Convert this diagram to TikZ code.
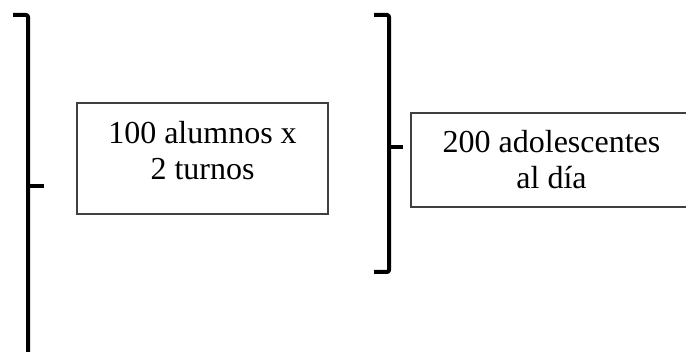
\documentclass[tikz,border=0pt]{standalone}
\usepackage{fontspec}
\setmainfont{Liberation Serif}
\begin{document}
\begin{tikzpicture}[x=1pt,y=-1pt,
  boxframe/.style={draw=black!75, line width=1.2pt, fill=white, inner sep=0pt},
  boxtext/.style={inner sep=0pt, align=center, font=\fontsize{32}{36}\selectfont},
  bracketline/.style={line width=4pt, black, line join=round}]
\clip (0,0) rectangle (686,352);
\fill[white] (0,0) rectangle (686,352);
% left bracket
\coordinate (lt) at (13,15);
\coordinate (lc) at (28,15);
\coordinate (lb) at (28,360);
\coordinate (lm) at (28,186);
\coordinate (lmt) at (44,186);
\draw[bracketline, rounded corners=2pt] (lt) -- (lc) -- (lb);
\draw[bracketline] (lm) -- (lmt);
% right bracket
\coordinate (rt) at (374,15);
\coordinate (rc) at (389,15);
\coordinate (rcb) at (389,272);
\coordinate (rb) at (374,272);
\coordinate (rm) at (389,147);
\coordinate (rmt) at (403,147);
\draw[bracketline, rounded corners=2pt] (rt) -- (rc) -- (rcb) -- (rb);
\draw[bracketline] (rm) -- (rmt);
% boxes
\node[boxframe, minimum width=251pt, minimum height=111pt] (b1) at (202.5,158.5) {};
\node[boxtext] (t1) at (202.5,151) {100 alumnos x\\2 turnos};
\node[boxframe, minimum width=281pt, minimum height=94pt] (b2) at (551.5,160) {};
\node[boxtext] (t2) at (551.5,160) {200 adolescentes\\al día};
\end{tikzpicture}
\end{document}
